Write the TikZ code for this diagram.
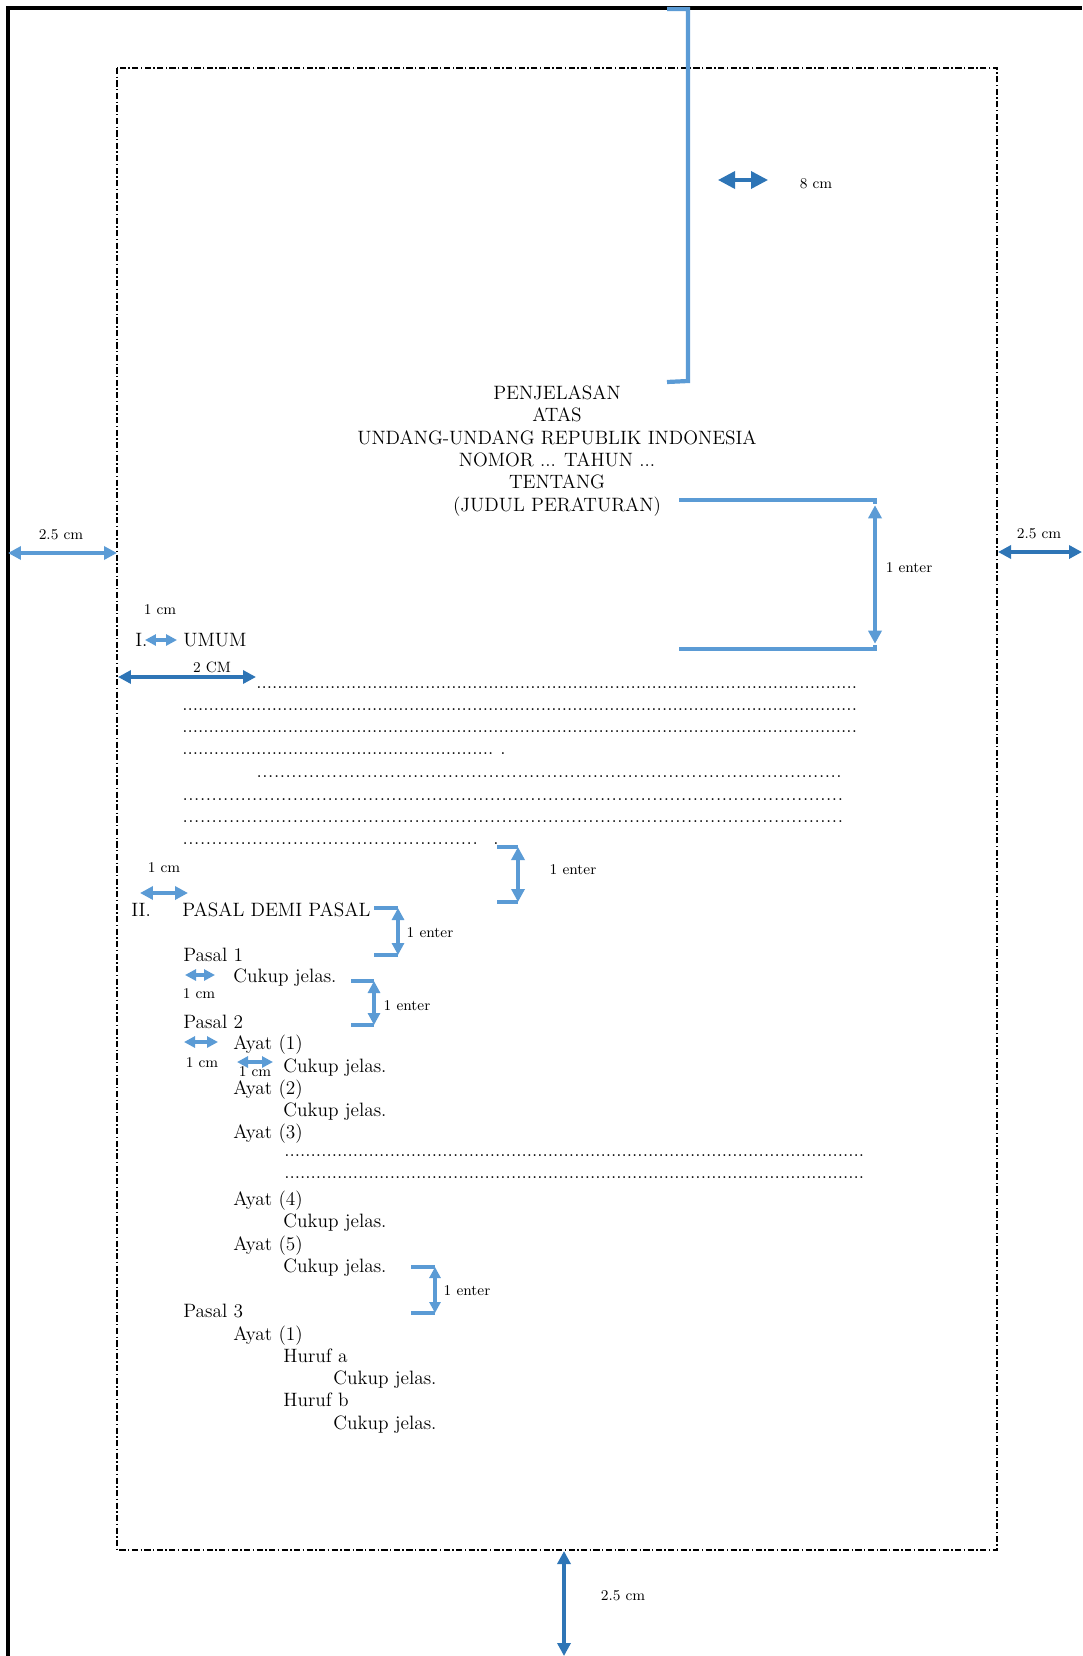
\documentclass[tikz,border=0pt]{standalone}
\usepackage{tikz}
\usetikzlibrary{positioning, arrows.meta}
\definecolor{birumuda}{HTML}{5B9BD5}
\definecolor{birutua}{HTML}{2E75B6}
\newcommand{\titik}[2][3pt]{\hbox to #2{\leaders\hbox to #1{\hss.\hss}\hfill}}
\tikzset{
  node distance=0.446cm,
  teks/.style={anchor=west, inner sep=0pt, text height=7.5pt, text depth=0pt,
    font=\fontsize{11}{13}\selectfont},
  judul/.style={teks, anchor=center},
  baris/.style={anchor=base west, inner sep=0pt, font=\fontsize{11}{13}\selectfont},
  ket/.style={inner sep=0pt, font=\fontsize{8.5}{10}\selectfont},
  panah/.style={line width=2pt,
    arrows={Triangle[length=#1,width=#1]-Triangle[length=#1,width=#1]}},
  panah/.default=2.4mm,
  kurung/.style={draw=birumuda, line width=2pt},
  tepi/.style={line width=2.2pt},
  batas/.style={line width=0.9pt, dash pattern=on 3.5pt off 1.4pt on 0.8pt off 1.4pt},
}

\begin{document}
\begin{tikzpicture}[x=0.02cm, y=-0.02cm]
  \useasboundingbox (0,0) rectangle (1082,1656);

  % tepi kertas dan batas ketikan
  \draw[tepi] (8,1656) -- (8,8) -- (1082,8);
  \draw[batas] (117,68) rectangle (997,1550);

  % judul
  \node[judul] (j1) at (557,393) {PENJELASAN};
  \node[judul, below of=j1] (j2) {ATAS};
  \node[judul, below of=j2] (j3) {UNDANG-UNDANG REPUBLIK INDONESIA};
  \node[judul, below of=j3] (j4) {NOMOR ... TAHUN ...};
  \node[judul, below of=j4] (j5) {TENTANG};
  \node[judul, below of=j5] (j6) {(JUDUL PERATURAN)};

  % umum
  \node[teks] (b1) at (135,640) {I.};
  \node[teks] (umum) at (183,640) {UMUM};
  \node[baris] (dt1) at (256,688) {\titik{12.12cm}};
  \node[baris] (dt2) at (182,710) {\titik{13.54cm}};
  \node[baris] (dt3) at (182,732) {\titik{13.54cm}};
  \node[baris] (dt4) at (182,754) {\titik{6.24cm}\hskip0.12cm.};
  \node[baris] (dt5) at (256,777) {\titik[3.3pt]{11.76cm}};
  \node[baris] (dt6) at (182,800) {\titik[3.3pt]{13.3cm}};
  \node[baris] (dt7) at (182,822) {\titik[3.3pt]{13.3cm}};
  \node[baris] (dt8) at (182,844) {\titik[3.3pt]{6.02cm}\hskip0.2cm.};

  % pasal demi pasal
  \node[teks] (b2) at (131,910) {II.};
  \node[teks] (pdp) at (182,910) {PASAL DEMI PASAL};
  \node[teks] (ps1) at (183,955) {Pasal 1};
  \node[teks] (cj1) at (233,976) {Cukup jelas.};
  \node[teks] (ps2) at (183,1022) {Pasal 2};
  \node[teks] (ay1) at (233,1043) {Ayat (1)};
  \node[teks] (cj2) at (283,1066) {Cukup jelas.};
  \node[teks] (ay2) at (233,1088) {Ayat (2)};
  \node[teks] (cj3) at (283,1110) {Cukup jelas.};
  \node[teks] (ay3) at (233,1132) {Ayat (3)};
  \node[baris] (dt9) at (284,1156) {\titik{11.68cm}};
  \node[baris] (dt10) at (284,1178) {\titik{11.68cm}};
  \node[teks] (ay4) at (233,1199) {Ayat (4)};
  \node[teks] (cj4) at (283,1221) {Cukup jelas.};
  \node[teks] (ay5) at (233,1244) {Ayat (5)};
  \node[teks] (cj5) at (283,1266) {Cukup jelas.};
  \node[teks] (ps3) at (183,1311) {Pasal 3};
  \node[teks] (ay6) at (233,1334) {Ayat (1)};
  \node[teks] (hra) at (283,1356) {Huruf a};
  \node[teks] (cj6) at (333,1378) {Cukup jelas.};
  \node[teks] (hrb) at (283,1400) {Huruf b};
  \node[teks] (cj7) at (333,1423) {Cukup jelas.};

  % keterangan ukuran
  \node[ket] (l8) at (816,184) {8 cm};
  \node[ket] (le1) at (909,568) {1 enter};
  \node[ket] (lka) at (1039,534) {2.5 cm};
  \node[ket] (lki) at (61,535) {2.5 cm};
  \node[ket] (lc1) at (160,610) {1 cm};
  \node[ket] (l2c) at (212,667) {2 CM};
  \node[ket] (le2) at (573,870) {1 enter};
  \node[ket] (lc2) at (164,868) {1 cm};
  \node[ket] (le3) at (430,933) {1 enter};
  \node[ket] (lc3) at (199,994) {1 cm};
  \node[ket] (le4) at (407,1006) {1 enter};
  \node[ket] (lc4) at (202,1063) {1 cm};
  \node[ket] (lc5) at (255,1072) {1 cm};
  \node[ket] (le5) at (467,1291) {1 enter};
  \node[ket] (lbw) at (623,1596) {2.5 cm};

  % kurung atas 8 cm
  \coordinate (ta1) at (667,9);
  \coordinate (ta2) at (688,9);
  \coordinate (tb1) at (667,382);
  \coordinate (tb2) at (688,381);
  \draw[kurung, line width=2.4pt] (ta1) -- (ta2) -- (tb2) -- (tb1);
  \coordinate (a8a) at (718,180);
  \coordinate (a8b) at (768,180);
  \draw[panah=3.4mm, birutua] (a8a) -- (a8b);

  % margin kiri, kanan, bawah
  \coordinate (mk1) at (8,553);
  \coordinate (mk2) at (117,553);
  \draw[panah=2.6mm, birumuda] (mk1) -- (mk2);
  \coordinate (mn1) at (998,552);
  \coordinate (mn2) at (1082,552);
  \draw[panah=2.6mm, birutua] (mn1) -- (mn2);
  \coordinate (mb1) at (564,1551);
  \coordinate (mb2) at (564,1656);
  \draw[panah=2.6mm, birutua] (mb1) -- (mb2);

  % 1 enter di bawah judul
  \coordinate (ka1) at (679,500);
  \coordinate (ka2) at (875,500);
  \coordinate (kb1) at (679,649);
  \coordinate (kb2) at (875,649);
  \draw[kurung] (ka1) -- (ka2) -- ++(0,4);
  \draw[kurung] (kb1) -- (kb2) -- ++(0,-4);
  \draw[panah=2.6mm, birumuda, shorten <=3pt, shorten >=3pt] (ka2) -- (kb2);

  % indentasi
  \coordinate (i1a) at (145,640);
  \coordinate (i1b) at (177,640);
  \draw[panah=2.2mm, birumuda] (i1a) -- (i1b);
  \coordinate (i2a) at (118,677);
  \coordinate (i2b) at (256,677);
  \draw[panah=2.6mm, birutua] (i2a) -- (i2b);
  \coordinate (i3a) at (140,893);
  \coordinate (i3b) at (188,893);
  \draw[panah=2.6mm, birumuda] (i3a) -- (i3b);
  \coordinate (i4a) at (185,975);
  \coordinate (i4b) at (215,975);
  \draw[panah=2.2mm, birumuda] (i4a) -- (i4b);
  \coordinate (i5a) at (184,1042);
  \coordinate (i5b) at (218,1042);
  \draw[panah=2.2mm, birumuda] (i5a) -- (i5b);
  \coordinate (i6a) at (237,1062);
  \coordinate (i6b) at (273,1062);
  \draw[panah=2.2mm, birumuda] (i6a) -- (i6b);

  % kurung 1 enter
  \coordinate (e1a) at (497,847);
  \coordinate (e1b) at (518,847);
  \coordinate (e1c) at (497,902);
  \coordinate (e1d) at (518,902);
  \draw[kurung] (e1a) -- (e1b);
  \draw[kurung] (e1c) -- (e1d);
  \draw[panah=2.6mm, birumuda] (e1b) -- (e1d);
  \coordinate (e2a) at (374,908);
  \coordinate (e2b) at (398,908);
  \coordinate (e2c) at (374,955);
  \coordinate (e2d) at (398,955);
  \draw[kurung] (e2a) -- (e2b);
  \draw[kurung] (e2c) -- (e2d);
  \draw[panah, birumuda] (e2b) -- (e2d);
  \coordinate (e3a) at (351,981);
  \coordinate (e3b) at (374,981);
  \coordinate (e3c) at (351,1025);
  \coordinate (e3d) at (374,1025);
  \draw[kurung] (e3a) -- (e3b);
  \draw[kurung] (e3c) -- (e3d);
  \draw[panah, birumuda] (e3b) -- (e3d);
  \coordinate (e4a) at (411,1267);
  \coordinate (e4b) at (435,1267);
  \coordinate (e4c) at (411,1313);
  \coordinate (e4d) at (435,1313);
  \draw[kurung] (e4a) -- (e4b);
  \draw[kurung] (e4c) -- (e4d);
  \draw[panah=2.2mm, birumuda] (e4b) -- (e4d);
\end{tikzpicture}
\end{document}
